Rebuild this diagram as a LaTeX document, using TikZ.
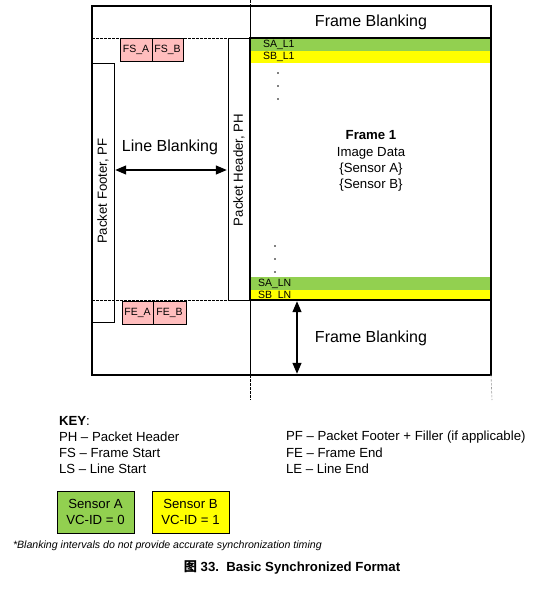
\documentclass[tikz,border=0pt]{standalone}
\usepackage{fontspec}
\setmainfont{Liberation Sans}
\newfontfamily\cjkfont{Noto Sans CJK SC}
\usetikzlibrary{arrows.meta, positioning, calc}
\definecolor{sensorgreen}{HTML}{92D050}
\definecolor{sensoryellow}{HTML}{FFFF00}
\definecolor{markerpink}{HTML}{FFBDBD}
\definecolor{guidegray}{HTML}{999999}

\begin{document}
\begin{tikzpicture}[x=1pt, y=-1pt,
    every node/.style={inner sep=0pt, outer sep=0pt},
    cell/.style={draw, line width=1pt, anchor=north west},
    heavy/.style={draw, line width=2.4pt, anchor=north west},
    marker/.style={cell, fill=markerpink, minimum width=32pt, minimum height=23pt, font=\fontsize{10.5}{12}\selectfont},
    stripe/.style={anchor=north west, minimum width=241pt},
    stripelabel/.style={anchor=west, font=\fontsize{10.5}{12}\selectfont},
    bigtext/.style={font=\fontsize{16}{19}\selectfont},
    midtext/.style={font=\fontsize{13.2}{16.3}\selectfont},
    guide/.style={dash pattern=on 2.5pt off 1.5pt, line width=0.6pt},
    span/.style={{Triangle[length=11pt, width=9pt]}-{Triangle[length=11pt, width=9pt]}, line width=1.3pt, shorten <=1.2pt, shorten >=1.2pt},
    legendbox/.style={draw, line width=1pt, minimum width=77pt, minimum height=42pt, align=center, font=\fontsize{13.2}{15.5}\selectfont}]

  \useasboundingbox (0,0) rectangle (544,589);

  % line stripes of the two sensors
  \node[stripe, fill=sensorgreen, minimum height=13pt] (sal1) at (250,38) {};
  \node[stripe, fill=sensoryellow, minimum height=12pt, below=0pt of sal1] (sbl1) {};
  \node[stripe, fill=sensorgreen, minimum height=13pt] (saln) at (250,277) {};
  \node[stripe, fill=sensoryellow, minimum height=10pt, below=0pt of saln] (sbln) {};
  \node[stripelabel] (sal1text) at (263,45) {SA\_L1};
  \node[stripelabel] (sbl1text) at (263,57) {SB\_L1};
  \node[stripelabel] (salntext) at (258,284) {SA\_LN};
  \node[stripelabel] (sblntext) at (258,296) {SB\_LN};
  \foreach \y in {73,86,99} \fill (278,\y) circle (0.8);
  \foreach \y in {246,259,272} \fill (275,\y) circle (0.8);

  % boxes
  \node[heavy, minimum width=399pt, minimum height=369pt] (outer) at (92,6) {};
  \node[heavy, minimum width=241pt, minimum height=262pt] (frame) at (250,38) {};
  \node[cell, minimum width=22pt, minimum height=259pt] (pf) at (92,63) {};
  \node[cell, minimum width=22pt, minimum height=262pt] (ph) at (228,38) {};
  \node[midtext, rotate=90] (pflabel) at (103,191) {Packet Footer, PF};
  \node[midtext, rotate=90] (phlabel) at (239,170) {Packet Header, PH};

  \node[marker] (fsa) at (120,38) {FS\_A};
  \node[marker, minimum width=31pt, right=0pt of fsa] (fsb) {FS\_B};
  \node[marker, minimum width=31pt] (fea) at (122,301) {FE\_A};
  \node[marker, minimum width=33pt, right=0pt of fea] (feb) {FE\_B};

  % labels
  \node[bigtext] (fbtop) at (371,22) {Frame Blanking};
  \node[bigtext] (fbbot) at (371,338) {Frame Blanking};
  \node[bigtext] (lblabel) at (170,147) {Line Blanking};
  \node[midtext, align=center] (framedata) at (371,161) {\textbf{Frame 1}\\Image Data\\\{Sensor A\}\\\{Sensor B\}};

  % dividers and guides
  \draw[line width=1pt] (outer.north -| frame.west) -- (frame.north west);
  \draw[line width=1pt] (frame.south west) -- (outer.south -| frame.west);
  \draw[guide] (outer.west |- frame.north) -- (ph.north west);
  \draw[guide] (outer.west |- frame.south) -- (ph.south west);
  \coordinate (topmark) at (250,0);
  \coordinate (lowmark) at (250,400);
  \coordinate (edgemark) at (492,400);
  \draw[guide] (topmark) -- (outer.north -| frame.west);
  \draw[guide] (outer.south -| frame.west) -- (lowmark);
  \draw[guide, guidegray] (outer.south east) -- (edgemark);

  % blanking arrows
  \coordinate (lbrow) at (0,170);
  \draw[span] (pf.east |- lbrow) -- (ph.west |- lbrow);
  \coordinate (fbcol) at (297,0);
  \draw[span] (frame.south -| fbcol) -- (outer.south -| fbcol);

  % key
  \node[midtext, anchor=west] (keyhead) at (59,421) {\textbf{KEY}:};
  \node[midtext, anchor=west] (keyph) at (59,437) {PH \textendash{} Packet Header};
  \node[midtext, anchor=west] (keyfs) at (59,453) {FS \textendash{} Frame Start};
  \node[midtext, anchor=west] (keyls) at (59,469) {LS \textendash{} Line Start};
  \node[midtext, anchor=west] (keypf) at (286,437) {PF \textendash{} Packet Footer + Filler (if applicable)};
  \node[midtext, anchor=west] (keyfe) at (286,453) {FE \textendash{} Frame End};
  \node[midtext, anchor=west] (keyle) at (286,469) {LE \textendash{} Line End};

  \node[legendbox, fill=sensorgreen] (sena) at (95.5,512) {Sensor A\\VC-ID = 0};
  \node[legendbox, fill=sensoryellow] (senb) at (190.5,512) {Sensor B\\VC-ID = 1};

  \node[anchor=west, font=\fontsize{10.6}{12}\selectfont\itshape] (note) at (13,546) {*Blanking intervals do not provide accurate synchronization timing};
  \node[font=\fontsize{13.2}{15}\selectfont\bfseries] (caption) at (292,567) {{\cjkfont 图}\ 33.\ \ Basic Synchronized Format};
\end{tikzpicture}
\end{document}
